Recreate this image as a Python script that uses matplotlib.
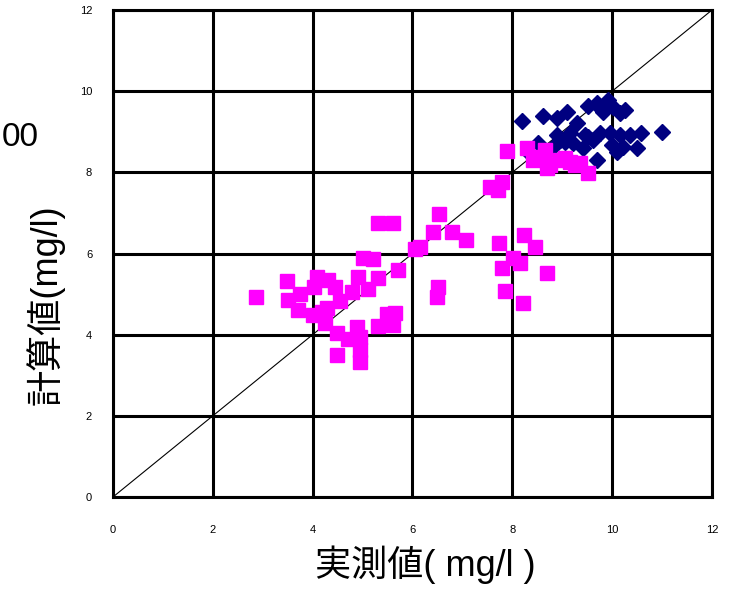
import numpy as np
import matplotlib.pyplot as plt

plt.rcParams['font.family'] = ['Liberation Sans', 'Noto Sans CJK JP', 'DejaVu Sans']

# measured (x) vs calculated (y), mg/l
navy_x = [8.19, 8.61, 8.89, 9.09, 9.29, 9.52, 9.70, 9.92, 10.02, 10.16, 10.26, 9.82,
          9.76, 8.89, 9.15, 9.21, 9.46, 9.62, 9.76, 9.96, 10.16, 10.36, 10.58, 11.00,
          10.10, 10.22, 10.50, 9.70, 8.95, 8.81, 8.61, 8.51, 9.42, 9.05, 10.00, 9.52,
          8.35]
navy_y = [9.27, 9.39, 9.34, 9.49, 9.22, 9.64, 9.71, 9.78, 9.61, 9.46, 9.54, 9.49,
          9.59, 8.92, 8.97, 8.72, 8.92, 8.80, 8.97, 8.97, 8.92, 8.92, 8.97, 8.99,
          8.50, 8.62, 8.60, 8.30, 8.80, 8.62, 8.50, 8.72, 8.60, 8.75, 8.67, 8.87,
          8.45]

pink_x = [2.86, 3.49, 3.51, 3.75, 3.71, 4.01, 4.09, 4.31, 4.45, 4.03, 4.19, 4.29,
          4.55, 4.79, 4.25, 4.49, 4.71, 4.89, 4.95, 4.49, 4.95, 4.95, 4.91, 5.01,
          5.21, 5.11, 5.31, 5.71, 5.31, 5.61, 6.05, 6.15, 6.41, 6.53, 6.79, 7.07,
          6.51, 6.49, 5.49, 5.65, 5.31, 5.61, 7.73, 8.23, 8.45, 8.01, 8.15, 7.79,
          8.69, 7.85, 8.21, 7.55, 7.79, 7.71, 7.89, 8.29, 8.41, 8.65, 8.75, 8.95,
          9.15, 9.35, 9.51, 8.69, 8.55, 9.25, 9.05]
pink_y = [4.93, 5.32, 4.85, 5.00, 4.61, 4.48, 5.42, 5.35, 5.17, 5.17, 4.56, 4.66,
          4.83, 5.05, 4.29, 4.04, 3.89, 4.19, 3.94, 3.50, 3.62, 3.33, 5.42, 5.89,
          5.86, 5.13, 5.40, 5.59, 6.75, 6.75, 6.11, 6.16, 6.53, 6.97, 6.53, 6.33,
          5.17, 4.93, 4.51, 4.53, 4.21, 4.24, 6.26, 6.46, 6.16, 5.89, 5.77, 5.64,
          5.52, 5.08, 4.78, 7.64, 7.76, 7.57, 8.53, 8.60, 8.30, 8.55, 8.18, 8.30,
          8.26, 8.23, 7.98, 8.11, 8.38, 8.18, 8.35]

ticks = [0, 2, 4, 6, 8, 10, 12]

fig = plt.figure(figsize=(7.35, 5.89), dpi=100)
ax = fig.add_axes([0.1537, 0.1562, 0.815, 0.8268])

ax.set_xlim(0, 12)
ax.set_ylim(0, 12)
ax.set_xticks(ticks)
ax.set_yticks(ticks)
ax.grid(True, color='black', linewidth=2.2)
ax.set_axisbelow(True)
for s in ax.spines.values():
    s.set_linewidth(2.2)
ax.tick_params(length=0, labelsize=8)
ax.tick_params(axis='x', pad=20)
ax.tick_params(axis='y', pad=15)

ax.plot([0, 12], [0, 12], color='black', linewidth=0.8, zorder=2)
ax.plot(navy_x, navy_y, 'D', color='#000080', markersize=8.5, linestyle='none', zorder=3)
ax.plot(pink_x, pink_y, 's', color='#ff00ff', markersize=9.5, linestyle='none', zorder=4)

# axis titles placed by hand, as in the original sheet
fig.text(425 / 735, 1 - 565 / 589, '実測値( mg/l )', fontsize=26, ha='center', va='center')
fig.text(45 / 735, 1 - 305 / 589, '計算値(mg/l)', fontsize=26, rotation=90,
         ha='center', va='center')

fig.text(0.002, 1 - 137 / 589, '00', fontsize=24, ha='left', va='center')

fig.savefig('out.png', dpi=100)
